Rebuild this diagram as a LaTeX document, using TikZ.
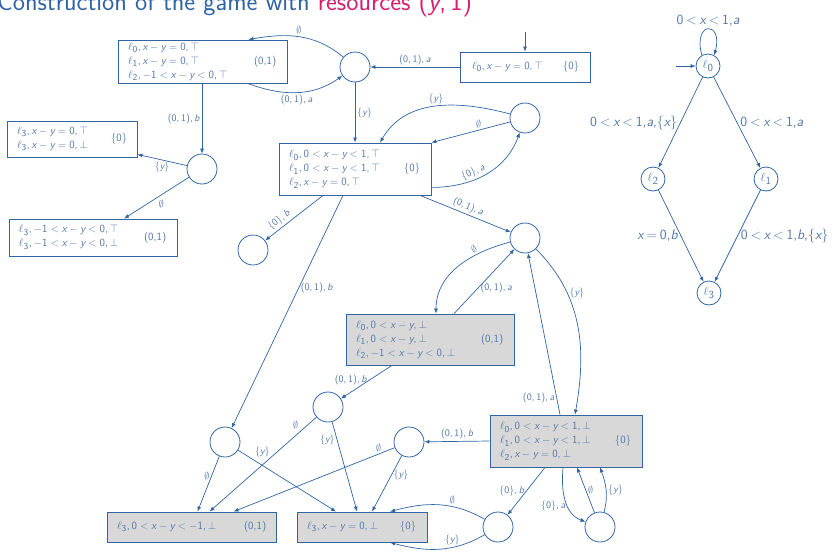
\documentclass[tikz,border=0pt]{standalone}
\renewcommand{\familydefault}{\sfdefault}
\usepackage[italic,nominus]{mathastext}
\usetikzlibrary{arrows.meta,calc}
\definecolor{lb}{RGB}{48,100,162}
\definecolor{tb}{RGB}{80,118,168}
\definecolor{mg}{RGB}{214,30,110}
\definecolor{gf}{RGB}{216,216,216}
\begin{document}
\begin{tikzpicture}[x=1pt,y=1pt,
  font=\sffamily\fontsize{11}{14}\selectfont,
  box/.style={draw=lb, line width=0.8pt, text=tb, align=left, inner xsep=10pt, inner ysep=2pt},
  gbox/.style={box, fill=gf},
  st/.style={circle, draw=lb, line width=0.8pt, minimum size=30pt, inner sep=0pt},
  loc/.style={circle, draw=lb, line width=0.8pt, minimum size=24pt, inner sep=0pt, text=tb, font=\sffamily\fontsize{13}{15}\selectfont},
  ar/.style={draw=lb, line width=0.7pt, -{Latex[length=5pt,width=4pt]}},
  lab/.style={text=tb, inner sep=2pt, font=\sffamily\fontsize{10}{12}\selectfont},
  lab2/.style={text=tb, inner sep=3pt, font=\sffamily\fontsize{14}{16}\selectfont, execute at begin node={\thickmuskip=3.5mu}},
  blab/.style={text=tb, anchor=east, inner sep=0pt}
]
\useasboundingbox (0,0) rectangle (835,-552);

% title
\node[anchor=base west, inner sep=0pt, text=lb, font=\sffamily\fontsize{26}{30}\selectfont] (title) at (-3,-10)
  {Construction of the game with \textcolor{mg}{resources $(y,1)$}};

% boxes
\node[box, text width=149pt, minimum height=43pt, label={[blab,xshift=-11pt]east:(0,1)}] (A1) at (202.5,-61.5)
  {$\ell_0, x-y=0, \top$\\$\ell_1, x-y=0, \top$\\$\ell_2, -1<x-y<0, \top$};
\node[box, text width=106pt, minimum height=30pt, inner xsep=12pt, label={[blab,xshift=-11pt]east:$\{0\}$}] (A0) at (525,-67)
  {$\ell_0, x-y=0, \top$};
\node[box, text width=110pt, minimum height=36pt, label={[blab,xshift=-10pt]east:$\{0\}$}] (D1) at (72,-139)
  {$\ell_3, x-y=0, \top$\\$\ell_3, x-y=0, \bot$};
\node[box, text width=148pt, minimum height=37pt, label={[blab,xshift=-11pt]east:(0,1)}] (D2) at (93,-237.5)
  {$\ell_3, -1<x-y<0, \top$\\$\ell_3, -1<x-y<0, \bot$};
\node[box, text width=132pt, minimum height=52pt, label={[blab,xshift=-11pt]east:$\{0\}$}] (B) at (355,-169)
  {$\ell_0, 0<x-y<1, \top$\\$\ell_1, 0<x-y<1, \top$\\$\ell_2, x-y=0, \top$};
\node[gbox, text width=148pt, minimum height=51pt, label={[blab,xshift=-11pt]east:(0,1)}] (E) at (430,-339.5)
  {$\ell_0, 0<x-y, \bot$\\$\ell_1, 0<x-y, \bot$\\$\ell_2, -1<x-y<0, \bot$};
\node[gbox, text width=132pt, minimum height=52pt, label={[blab,xshift=-11pt]east:$\{0\}$}] (F) at (566,-441)
  {$\ell_0, 0<x-y<1, \bot$\\$\ell_1, 0<x-y<1, \bot$\\$\ell_2, x-y=0, \bot$};
\node[gbox, text width=149pt, minimum height=30pt, label={[blab,xshift=-10pt]east:(0,1)}] (G) at (191.5,-527)
  {$\ell_3, 0<x-y<-1, \bot$};
\node[gbox, text width=110pt, minimum height=30pt, label={[blab,xshift=-11pt]east:$\{0\}$}] (H) at (362,-527)
  {$\ell_3, x-y=0, \bot$};

% states
\node[st] (C1) at (355,-67) {};
\node[st] (C2) at (202,-169) {};
\node[st] (C3) at (525,-118) {};
\node[st] (C4) at (253,-250) {};
\node[st] (C5) at (525,-238) {};
\node[st] (C6) at (225,-442) {};
\node[st] (C10) at (328,-407) {};
\node[st] (C11) at (409,-442) {};
\node[st] (C8) at (498,-527) {};
\node[st] (C9) at (600,-527) {};

% edges top
\coordinate (i0) at (525,-32);
\draw[ar] (i0) -- (A0);
\draw[ar] (A0) -- node[lab,above]{$(0,1),a$} (C1);
\draw[ar] (C1) to[out=140,in=10] node[lab,above]{$\emptyset$} ([xshift=-39pt]A1.north east);
\draw[ar] ([xshift=-40pt]A1.south east) to[out=-20,in=-145] node[lab,below]{$(0,1),a$} (C1);
\draw[ar] (C1) -- node[lab,right]{$\{y\}$} (B);
\draw[ar] (A1.south -| C2) -- node[lab,left]{$(0,1),b$} (C2);
\draw[ar] (C2) -- node[lab,below]{$\{y\}$} ([yshift=3pt]D1.south east);
\draw[ar] (C2) -- node[lab,below right]{$\emptyset$} ([xshift=31pt]D2.north);

\draw[ar] (C3) to[out=165,in=60] node[lab,above]{$\{y\}$} ([xshift=25pt]B.north);
\draw[ar] (C3) -- node[lab,above,pos=0.4]{$\emptyset$} (B.north east);
\draw[ar] ([yshift=8pt]B.south east) to[out=0,in=-110] node[lab,above,sloped,pos=0.4]{$\{0\},a$} (C3);
\draw[ar] ([xshift=-32pt]B.south) -- node[lab,above,sloped,pos=0.68]{$\{0\},b$} (C4);
\draw[ar] ([xshift=65pt]B.south) -- node[lab,above,sloped]{$(0,1),a$} (C5);
\draw[ar] ([xshift=-12pt]B.south) -- node[lab,right,pos=0.4]{$(0,1),b$} (C6);

% middle
\draw[ar] (C5) to[out=195,in=90] node[lab,above,sloped,pos=0.3]{$\emptyset$} ([xshift=6pt]E.north);
\draw[ar] ([xshift=24pt]E.north) -- node[lab,right,pos=0.4]{$(0,1),a$} (C5);
\draw[ar] (C5) to[out=-45,in=80] node[lab,right,pos=0.3]{$\{y\}$} ([xshift=9pt]F.north);
\draw[ar] ([xshift=-6pt]F.north) -- node[lab,left,pos=0.1]{$(0,1),a$} (C5);
\draw[ar] ([xshift=-38pt]E.south) -- node[lab,left,pos=0.45]{$(0,1),b$} (C10);

% F edges
\draw[ar] (F.west) -- node[lab,above]{$(0,1),b$} (C11);
\draw[ar] ([xshift=-21pt]F.south) -- node[lab,left]{$\{0\},b$} (C8);
\draw[ar] ([xshift=-3pt]F.south) to[out=-95,in=160] node[lab,left,pos=0.6]{$\{0\},a$} (C9);
\draw[ar] (C9) -- node[lab,right]{$\emptyset$} ([xshift=11pt]F.south);
\draw[ar] (C9) to[out=75,in=-70] node[lab,right]{$\{y\}$} ([xshift=34pt]F.south);
\draw[ar] (C8) to[out=150,in=15] node[lab,above,pos=0.35]{$\emptyset$} ([xshift=28pt]H.north);
\draw[ar] (C8) to[out=-150,in=-15] node[lab,above,pos=0.35]{$\{y\}$} ([xshift=28pt]H.south);

% bottom
\draw[ar] (C6) -- node[lab,left,pos=0.35]{$\emptyset$} ([xshift=6pt]G.north);
\draw[ar] (C6) -- node[lab,above right,pos=0.15]{$\{y\}$} ([xshift=-26pt]H.north);
\draw[ar] (C10) -- node[lab,above left,pos=0.15]{$\emptyset$} ([xshift=18pt]G.north);
\draw[ar] (C10) -- node[lab,left,pos=0.2]{$\{y\}$} ([xshift=-5pt]H.north);
\draw[ar] (C11) -- node[lab,above,pos=0.1]{$\emptyset$} ([xshift=42pt]G.north);
\draw[ar] (C11) -- node[lab,right,pos=0.35]{$\{y\}$} ([xshift=10pt]H.north);

% timed automaton
\node[loc] (L0) at (708,-66) {$\ell_0$};
\node[loc] (L2) at (653,-179) {$\ell_2$};
\node[loc] (L1) at (766,-179) {$\ell_1$};
\node[loc] (L3) at (709,-293) {$\ell_3$};
\coordinate (i1) at (676,-66);
\draw[ar] (i1) -- (L0);
\draw[ar] (L0.120) .. controls +(105:36) and +(75:36) .. node[lab2,above]{$0<x<1{,}a$} (L0.60);
\draw[ar] (L0) -- node[lab2,left]{$0<x<1{,}a{,}\{x\}$} (L2);
\draw[ar] (L0) -- node[lab2,right]{$0<x<1{,}a$} (L1);
\draw[ar] (L2) -- node[lab2,left]{$x=0{,}b$} (L3);
\draw[ar] (L1) -- node[lab2,right]{$0<x<1{,}b{,}\{x\}$} (L3);
\end{tikzpicture}
\end{document}
